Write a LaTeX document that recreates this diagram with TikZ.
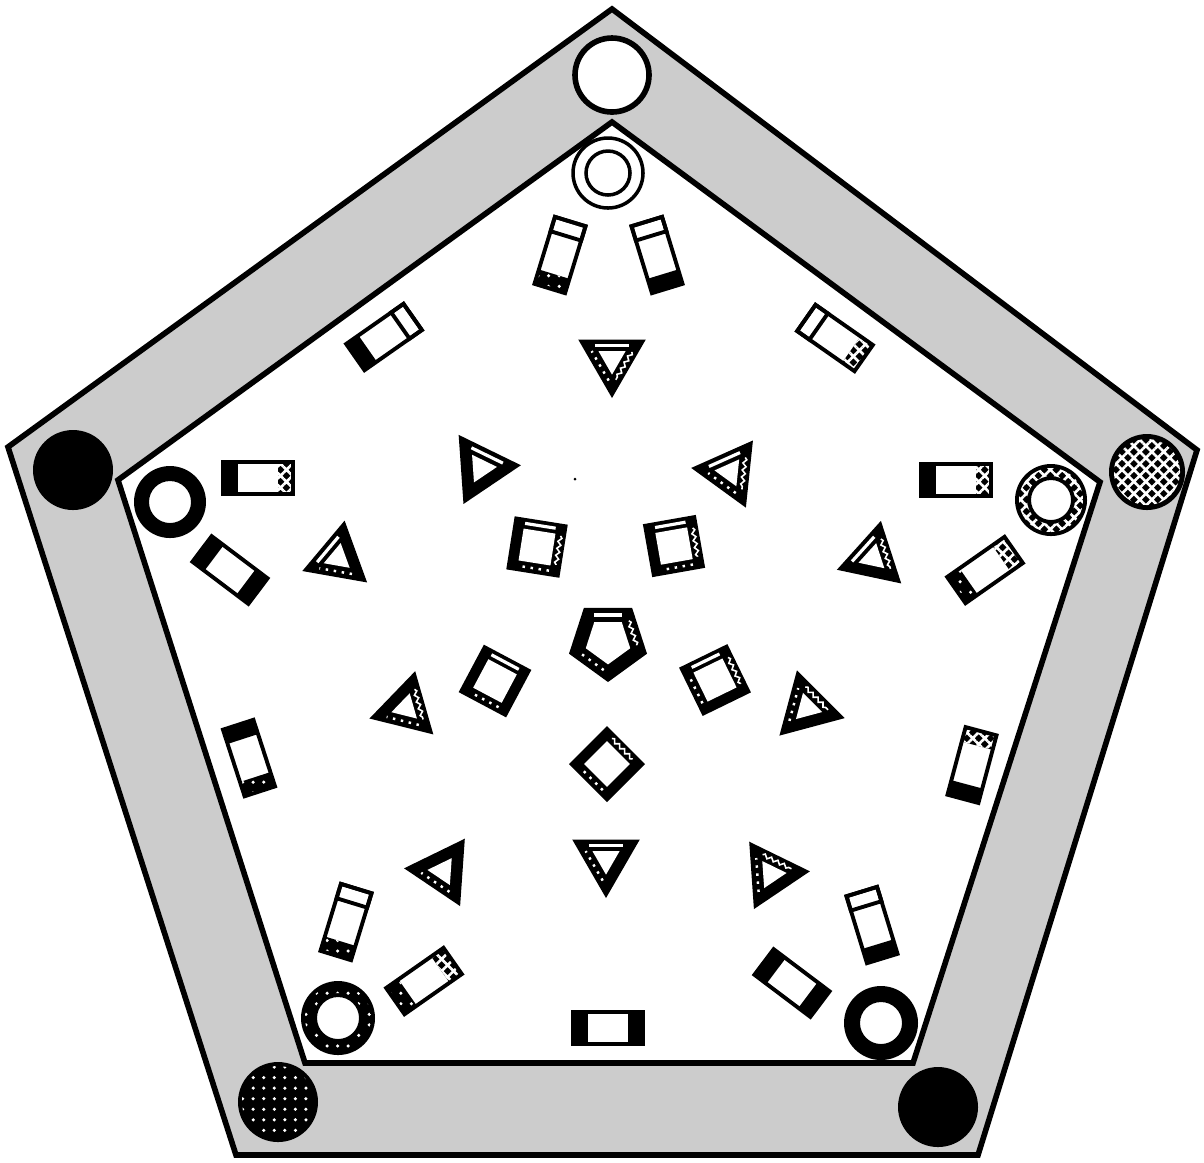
\documentclass[tikz,border=0pt]{standalone}
\usepackage{tikz}
\usetikzlibrary{calc,patterns,patterns.meta,decorations.pathmorphing}

% tilted chip: x, y, rotation, top band, bottom band
\newcommand{\chip}[5]{%
  \begin{scope}[shift={(#1,#2)},rotate=#3]
    \path[#4] (-16,-35) rectangle (16,-20);
    \path[#5] (-16,20) rectangle (16,35);
    \draw[chipline] (-16,-35) rectangle (16,35);
  \end{scope}}

% framed polygon: x, y, sides, radius, first angle, inner ratio, bevel edge, squiggle edge, dotted edge
\newcommand{\frm}[9]{%
  \pgfmathsetmacro\ang{360/#3}%
  \pgfmathsetmacro\rin{#6*#4}%
  \pgfmathsetmacro\rb{(1+#6)/2*#4}%
  \pgfmathtruncatemacro\nlast{#3-1}%
  \begin{scope}[shift={(#1,#2)}]
    \fill[black] (#5:#4) \foreach \k in {1,...,\nlast}{ -- (#5+\k*\ang:#4)} -- cycle;
    \fill[white] (#5:\rin) \foreach \k in {1,...,\nlast}{ -- (#5+\k*\ang:\rin)} -- cycle;
    \ifnum#7>-1
      \draw[bevel] ($(#5+#7*\ang:\rb)!0.14!(#5+#7*\ang+\ang:\rb)$) -- ($(#5+#7*\ang:\rb)!0.86!(#5+#7*\ang+\ang:\rb)$);
    \fi
    \ifnum#8>-1
      \draw[squiggle] ($(#5+#8*\ang:\rb)!0.16!(#5+#8*\ang+\ang:\rb)$) -- ($(#5+#8*\ang:\rb)!0.84!(#5+#8*\ang+\ang:\rb)$);
    \fi
    \ifnum#9>-1
      \draw[dotline] ($(#5+#9*\ang:\rb)!0.14!(#5+#9*\ang+\ang:\rb)$) -- ($(#5+#9*\ang:\rb)!0.86!(#5+#9*\ang+\ang:\rb)$);
    \fi
  \end{scope}}

\begin{document}
\begin{tikzpicture}[x=0.01cm,y=-0.01cm,
  rim/.style={draw=black,line width=1.6pt,line join=miter},
  band/.style={fill=black!20},
  chipline/.style={draw=black,line width=1.1pt},
  bandwhite/.style={draw=black,line width=1.1pt},
  bandblack/.style={fill=black},
  banddots/.style={fill=black,postaction={pattern=dots,pattern color=white}},
  meshfill/.style={pattern={Hatch[angle=45,distance=2.4pt,line width=0.75pt]},pattern color=white},
  bandmesh/.style={fill=black,postaction={meshfill}},
  bevel/.style={white,line width=0.9pt},
  squiggle/.style={white,line width=0.45pt,decorate,
                   decoration={snake,amplitude=0.5pt,segment length=2pt}},
  dotline/.style={white,line width=0.7pt,dash pattern=on 0.7pt off 1.6pt}]
\useasboundingbox (0,0) rectangle (1204,1162);
\fill[white] (0,0) rectangle (1204,1162);

% the pentagonal rim
\fill[band,even odd rule] (612,9) -- (1197,450) -- (978,1155) -- (236,1155) -- (8,447) -- cycle
  (612,122) -- (1100,482) -- (913,1063) -- (305,1063) -- (118,480) -- cycle;
\draw[rim] (612,9) -- (1197,450) -- (978,1155) -- (236,1155) -- (8,447) -- cycle;
\draw[rim] (612,122) -- (1100,482) -- (913,1063) -- (305,1063) -- (118,480) -- cycle;

% corner discs
\draw[rim,fill=white] (612,75) circle (37);
\fill[black] (73,470) circle (40);
\fill[black] (1147,472) circle (38);
\fill[meshfill] (1147,472) circle (33);
\fill[black] (278,1102) circle (40);
\fill[pattern=dots,pattern color=white] (278,1102) circle (36);
\fill[black] (938,1107) circle (40);

% rings
\draw[line width=1pt,fill=white] (608,173) circle (35);
\draw[line width=1pt] (608,173) circle (22);
\fill[black,even odd rule] (170,502) circle (36) circle (21);
\fill[black,even odd rule] (1051,500) circle (36) circle (20);
\fill[meshfill,even odd rule] (1051,500) circle (32) circle (24);
\fill[black,even odd rule] (338,1018) circle (37) circle (21);
\fill[pattern=dots,pattern color=white,even odd rule] (338,1018) circle (33) circle (25);
\fill[black,even odd rule] (881,1023) circle (37) circle (21);

% chips
\chip{560}{255}{-17}{bandwhite}{banddots}
\chip{657}{255}{17}{bandwhite}{bandblack}
\chip{384}{337}{-55}{bandwhite}{bandblack}
\chip{835}{338}{55}{bandwhite}{bandmesh}
\chip{258}{478}{90}{bandblack}{bandmesh}
\chip{230}{570}{53}{bandblack}{bandblack}
\chip{956}{480}{90}{bandblack}{bandmesh}
\chip{985}{570}{-55}{bandmesh}{banddots}
\chip{249}{758}{18}{bandblack}{banddots}
\chip{972}{765}{-15}{bandmesh}{bandblack}
\chip{346}{922}{-17}{bandwhite}{banddots}
\chip{424}{981}{-55}{bandmesh}{banddots}
\chip{608}{1028}{90}{bandblack}{bandblack}
\chip{792}{983}{53}{bandblack}{bandblack}
\chip{872}{925}{17}{bandwhite}{bandblack}

% triangles
\frm{612}{359}{3}{39}{90}{0.4}{1}{2}{0}
\frm{481}{468}{3}{40}{-4}{0.4}{2}{-1}{-1}
\frm{730}{472}{3}{39}{186}{0.4}{0}{1}{2}
\frm{338}{558}{3}{38}{-80}{0.4}{2}{-1}{1}
\frm{873}{558}{3}{38}{-78}{0.4}{2}{0}{-1}
\frm{406}{708}{3}{38}{-76}{0.4}{-1}{0}{1}
\frm{807}{708}{3}{39}{15}{0.4}{-1}{2}{1}
\frm{443}{871}{3}{39}{184}{0.4}{-1}{-1}{2}
\frm{606}{859}{3}{39}{90}{0.4}{1}{-1}{0}
\frm{771}{874}{3}{39}{-4}{0.4}{-1}{2}{1}

% squares and the pentagon
\frm{537}{547}{4}{38}{-36}{0.6}{3}{0}{1}
\frm{674}{546}{4}{38}{-55}{0.6}{3}{0}{1}
\frm{495}{681}{4}{38}{-17}{0.6}{3}{-1}{1}
\frm{715}{680}{4}{38}{19}{0.6}{2}{3}{1}
\frm{607}{764}{4}{38}{0}{0.6}{-1}{3}{1}
\frm{608}{641}{5}{41}{90}{0.57}{2}{3}{0}

\fill[black] (575,479) circle (1.5);
\end{tikzpicture}
\end{document}
